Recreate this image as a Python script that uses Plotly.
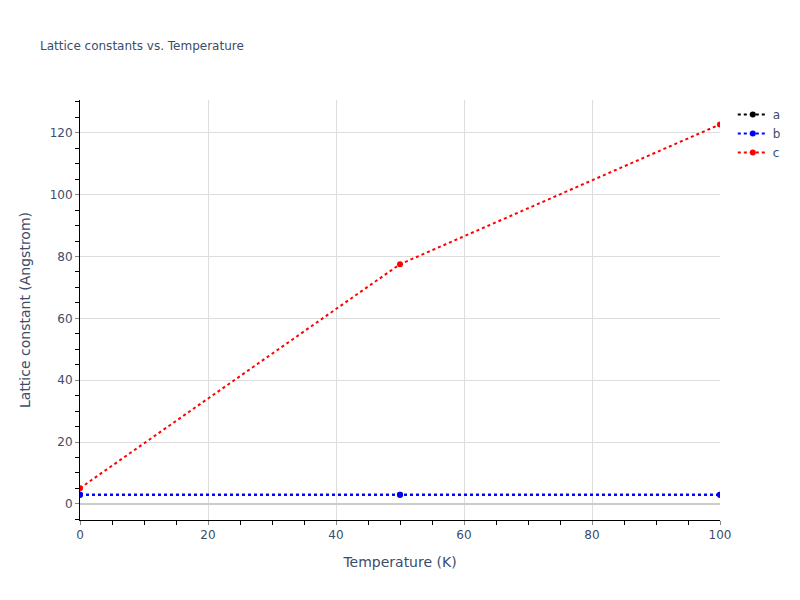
import plotly.graph_objects as go

temperature = [0, 50, 100]
lattice_a = [2.95, 2.95, 2.95]
lattice_b = [2.95, 2.95, 2.95]
lattice_c = [5.1, 77.5, 122.7]

series = [
    ("a", lattice_a, "black"),
    ("b", lattice_b, "blue"),
    ("c", lattice_c, "red"),
]

fig = go.Figure()
for name, vals, color in series:
    fig.add_trace(go.Scatter(x=temperature, y=vals, name=name, mode="lines+markers",
                             line=dict(color=color, dash="dot", width=2),
                             marker=dict(color=color, size=6)))

axis_style = dict(showline=True, linecolor="black", linewidth=1,
                  ticks="outside", ticklen=4, tickcolor="#888",
                  showgrid=True, gridcolor="#dddddd",
                  minor=dict(ticks="outside", ticklen=4, tickcolor="black", dtick=5, showgrid=False))

fig.update_layout(
    width=800, height=600,
    template="plotly_white",
    font=dict(family="DejaVu Sans", color="#3c4d6b"),
    title=dict(text="Lattice constants vs. Temperature", font=dict(size=12)),
    xaxis=dict(title="Temperature (K)", range=[0, 100], dtick=20, zeroline=False, **axis_style),
    yaxis=dict(title="Lattice constant (Angstrom)", range=[-5.2, 130.6], dtick=20,
               zeroline=True, zerolinecolor="#cccccc", zerolinewidth=2, **axis_style),
    plot_bgcolor="white",
)

fig.write_html("out.html", config={"displayModeBar": False},
               post_script="document.body.style.margin='0';")
